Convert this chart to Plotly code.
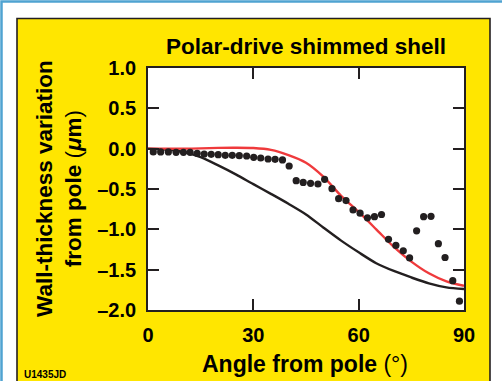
import plotly.graph_objects as go

# Measured data (angle in degrees, wall-thickness variation in µm)
meas_angle = [1.5, 3.6, 5.8, 8.0, 10.1, 12.0, 14.0, 16.0, 18.0, 20.0, 22.0, 24.0, 26.0, 28.1,
              30.1, 32.1, 34.2, 36.2, 38.3, 40.2, 42.2, 44.2, 46.3, 48.4, 50.3, 52.4, 54.3,
              56.4, 58.4, 60.4, 62.5, 64.5, 66.5, 68.5, 70.6, 72.7, 74.5, 76.5, 78.5, 80.6,
              82.7, 84.6, 86.8, 88.7]
meas_value = [-0.041, -0.040, -0.040, -0.045, -0.045, -0.045, -0.058, -0.066, -0.070, -0.074,
              -0.083, -0.083, -0.087, -0.091, -0.107, -0.116, -0.128, -0.132, -0.140, -0.215,
              -0.397, -0.418, -0.430, -0.438, -0.380, -0.496, -0.620, -0.643, -0.760, -0.800,
              -0.857, -0.843, -0.816, -1.124, -1.200, -1.266, -1.355, -1.019, -0.843, -0.839,
              -1.178, -1.349, -1.636, -1.890]

# Model curves
curve_angle = [0, 5, 10, 15, 20, 25, 30, 35, 40, 45, 50, 55, 60, 65, 70, 75, 80, 85, 90]
red_value = [0.0, 0.0, 0.0, 0.003, 0.01, 0.012, 0.008, -0.015, -0.08, -0.175, -0.35, -0.585,
             -0.785, -1.0, -1.218, -1.40, -1.545, -1.645, -1.70]
black_value = [0.0, -0.01, -0.04, -0.105, -0.207, -0.318, -0.44, -0.56, -0.683, -0.815, -0.98,
               -1.14, -1.285, -1.42, -1.516, -1.597, -1.67, -1.72, -1.74]

x_ticks = [0, 30, 60, 90]
y_ticks = [1.0, 0.5, 0.0, -0.5, -1.0, -1.5, -2.0]

FONT = "Liberation Sans, Arial, Helvetica, sans-serif"

fig = go.Figure()
fig.add_trace(go.Scatter(x=curve_angle, y=black_value, mode="lines",
                         line=dict(color="#231F20", width=2.4, shape="spline", smoothing=0.8),
                         showlegend=False, cliponaxis=False))
fig.add_trace(go.Scatter(x=curve_angle, y=red_value, mode="lines",
                         line=dict(color="#EF3A3C", width=2.4, shape="spline", smoothing=0.8),
                         showlegend=False, cliponaxis=False))
fig.add_trace(go.Scatter(x=meas_angle, y=meas_value, mode="markers",
                         marker=dict(color="#231F20", size=7.2, line=dict(width=0)),
                         showlegend=False, cliponaxis=False))

L, R, T, B = 148, 38, 68, 71
W, H = 502, 381
pw, ph = W - L - R, H - T - B

def px(xp):
    return (xp - L) / pw

def py(yp):
    return (H - B - yp) / ph

fig.update_layout(
    width=W, height=H,
    margin=dict(l=L, r=R, t=T, b=B, pad=0),
    paper_bgcolor="white",
    plot_bgcolor="white",
    font=dict(family=FONT, color="black"),
    shapes=[
        dict(type="rect", xref="paper", yref="paper", layer="below",
             x0=px(1.5), x1=px(520), y0=py(400), y1=py(1.5),
             line=dict(color="#4FA3D1", width=2.5), fillcolor="white"),
        dict(type="rect", xref="paper", yref="paper", layer="below",
             x0=px(17), x1=px(490), y0=py(400), y1=py(18.5),
             line=dict(color="#231F20", width=1.6), fillcolor="#FFE600"),
        dict(type="rect", xref="paper", yref="paper", layer="below",
             x0=0, x1=1, y0=0, y1=1, line=dict(width=0), fillcolor="white"),
    ],
    annotations=[
        dict(text="<b>Polar-drive shimmed shell</b>", xref="paper", yref="paper",
             x=px(306), y=py(46), xanchor="center", yanchor="middle", showarrow=False,
             font=dict(size=22.5, family=FONT)),
        dict(text="<b>Angle from pole</b> (°)", xref="paper", yref="paper",
             x=px(305), y=py(363.5), xanchor="center", yanchor="middle", showarrow=False,
             font=dict(size=23, family=FONT)),
        dict(text="<b>Wall-thickness variation</b><br><b>from pole</b> (<b><i>μ</i>m</b>)",
             xref="paper", yref="paper", x=px(59), y=py(189), xanchor="center",
             yanchor="middle", showarrow=False, textangle=-90,
             font=dict(size=22.5, family=FONT)),
        dict(text="<b>U1435JD</b>", xref="paper", yref="paper", x=px(22), y=py(374.5),
             xanchor="left", yanchor="middle", showarrow=False,
             font=dict(size=10, family=FONT)),
    ],
)

fig.update_xaxes(range=[0, 90], tickvals=x_ticks, ticktext=[str(v) for v in x_ticks],
                 ticks="inside", ticklen=11, tickwidth=1.8, tickcolor="#231F20",
                 showline=True, linecolor="#231F20", linewidth=1.8, mirror="ticks",
                 showgrid=False, zeroline=False,
                 tickfont=dict(size=20, family=FONT, weight="bold"), ticklabelstandoff=6)
fig.update_yaxes(range=[-2, 1], tickvals=y_ticks, ticktext=[f"{v:.1f}".replace("-", "\u2013") for v in y_ticks],
                 ticks="inside", ticklen=11, tickwidth=1.8, tickcolor="#231F20",
                 showline=True, linecolor="#231F20", linewidth=1.8, mirror="ticks",
                 showgrid=False, zeroline=False,
                 tickfont=dict(size=20, family=FONT, weight="bold"), ticklabelstandoff=6)

fig.write_html("out.html", config={"displayModeBar": False},
               post_script="document.body.style.margin='0';document.body.style.overflow='hidden';")
